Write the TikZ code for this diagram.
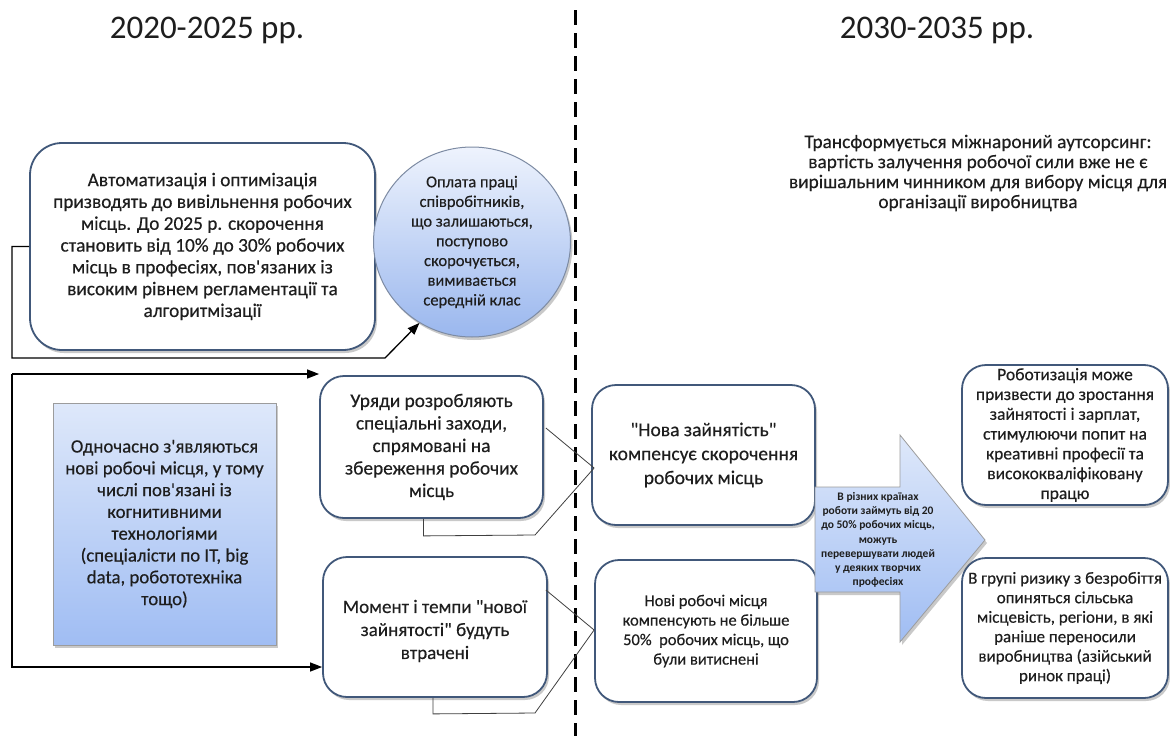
\documentclass[tikz,border=0pt]{standalone}
\usepackage{fontspec}
\setmainfont{Carlito}
\newfontfamily\bodyfont{Carlito}[FakeBold=0.35]
\newfontfamily\plainfont{Carlito}
\usetikzlibrary{shapes.geometric,shadows,arrows.meta,calc}
\definecolor{boxline}{HTML}{41587A}
\definecolor{txt}{HTML}{1E1E1E}
\definecolor{elltop}{HTML}{EEF3FD}
\definecolor{ellbot}{HTML}{9AB7EE}
\definecolor{ellline}{HTML}{7D8BA3}
\definecolor{bluetop}{HTML}{DEE8FA}
\definecolor{bluebot}{HTML}{A0BDF3}
\definecolor{grayline}{HTML}{9C9C9C}
\begin{document}
\begin{tikzpicture}[x=1pt,y=-1pt,
  shad/.style={drop shadow={shadow xshift=2pt,shadow yshift=-3pt,opacity=0.35,fill=black!60}},
  rbox/.style={draw=boxline,line width=1.8pt,rounded corners=24pt,fill=white,align=center,inner sep=0pt,text=txt,shad},
  ellnode/.style={ellipse,draw=ellline,line width=1pt,top color=elltop,bottom color=ellbot,align=center,inner sep=0pt,text=txt,shad},
  bluebox/.style={rectangle,draw=grayline,line width=0.8pt,top color=bluetop,bottom color=bluebot,align=center,inner sep=0pt,text=txt,shad},
  conn/.style={draw=black,line width=1.3pt,-{Triangle[length=12pt,width=9pt]}},
  brk/.style={draw=black!75,line width=0.8pt},
  divider/.style={draw=black,line width=3pt,dash pattern=on 15pt off 8pt}
]
\useasboundingbox[fill=white] (0,0) rectangle (1170,736);

% titles
\node[text=txt,font=\plainfont\fontsize{33}{38}\selectfont] (t1) at (207,30) {2020-2025 рр.};
\node[text=txt,font=\plainfont\fontsize{33}{38}\selectfont] (t2) at (937,30) {2030-2035 рр.};

% divider
\coordinate (dtop) at (575,10);
\coordinate (dbot) at (575,736);
\draw[divider] (dtop) -- (dbot);

% left column
\node[rbox,minimum width=345pt,minimum height=207pt,rounded corners=32pt,font=\bodyfont\fontsize{19.3}{21.8}\selectfont] (a) at (202.5,246.5)
 {Автоматизація і оптимізація\\призводять до вивільнення робочих\\місць. До 2025 р. скорочення\\становить від 10\% до 30\% робочих\\місць в професіях, пов'язаних із\\високим рівнем регламентації та\\алгоритмізації};

\node[ellnode,minimum width=197pt,minimum height=190pt,font=\bodyfont\fontsize{16.5}{19.7}\selectfont] (b) at (472,242)
 {Оплата праці\\співробітників,\\що залишаються,\\поступово\\скорочується,\\вимивається\\середній клас};

\node[bluebox,minimum width=223pt,minimum height=242pt,font=\bodyfont\fontsize{18.8}{21.8}\selectfont] (c) at (164.5,524)
 {Одночасно з'являються\\нові робочі місця, у тому\\числі пов'язані із\\когнитивними\\технологіями\\(спеціалісти по IT, big\\data, робототехніка\\тощо)};

\node[rbox,minimum width=223pt,minimum height=142pt,font=\bodyfont\fontsize{19.3}{22.5}\selectfont] (d) at (431.5,447)
 {Уряди розробляють\\спеціальні заходи,\\спрямовані на\\збереження робочих\\місць};

\node[rbox,minimum width=224pt,minimum height=140pt,font=\bodyfont\fontsize{19}{23}\selectfont] (e) at (435,627)
 {\\[-2pt]Момент і темпи "нової\\зайнятості" будуть\\втрачені};

% right column
\node[rbox,minimum width=223pt,minimum height=140pt,font=\bodyfont\fontsize{19.5}{24}\selectfont] (f) at (703.5,455)
 {"Нова зайнятість"\\компенсує скорочення\\робочих місць};

\node[rbox,minimum width=222pt,minimum height=142pt,font=\bodyfont\fontsize{16.5}{19.5}\selectfont] (g) at (706,631)
 {Нові робочі місця\\компенсують не більше\\50\%\ \ робочих місць, що\\були витиснені};

\node[rbox,minimum width=206pt,minimum height=140pt,font=\bodyfont\fontsize{17.5}{19.8}\selectfont] (h) at (1065,435)
 {Роботизація може\\призвести до зростання\\зайнятості і зарплат,\\стимулюючи попит на\\креативні професії та\\висококваліфіковану\\працю};

\node[rbox,minimum width=206pt,minimum height=140pt,font=\bodyfont\fontsize{17}{19.5}\selectfont] (i) at (1065,628)
 {В групі ризику з безробіття\\опиняться сільська\\місцевість, регіони, в які\\раніше переносили\\виробництва (азійський\\ринок праці)};

\node[text=txt,align=center,font=\bodyfont\fontsize{19.3}{20}\selectfont] (t) at (978,173)
 {Трансформується міжнароний аутсорсинг:\\вартість залучення робочої сили вже не є\\вирішальним чинником для вибору місця для\\організації виробництва};

% big arrow
\path[draw=grayline,line width=0.8pt,top color=bluetop,bottom color=bluebot,shad]
  (815,487) -- (900,487) -- (900,435) -- (985,540) -- (900,642) -- (900,592) -- (815,592) -- cycle;
\node[align=center,text=txt,font=\plainfont\bfseries\fontsize{11.5}{14.2}\selectfont] (arr) at (878,540)
 {В різних країнах\\роботи займуть від 20\\до 50\% робочих місць,\\можуть\\перевершувати людей\\у деяких творчих\\професіях};

% connectors
\coordinate (p1) at (12,246.5);
\coordinate (p2) at (12,358);
\coordinate (p3) at (385,358);
\draw[conn] (a.west) -- (p1) -- (p2) -- (p3) -- (b.237);

\coordinate (j) at (12,374);
\coordinate (k) at (12,667);
\draw[conn] (j) -- (j -| d.west);
\draw[conn] (j) -- (k) -- (k -| e.west);

% brackets d -> f
\coordinate (fm) at ($(f.west)+(3,13)$);
\draw[brk] ($(d.east)+(2,-19)$) -- (fm);
\draw[brk] ($(d.south)+(-8,0)$) -- ++(0,17) -- (535,535) -- (fm);
% brackets e -> g
\coordinate (gm) at ($(g.west)+(0,-1)$);
\draw[brk] ($(e.east)+(-2,-37)$) -- (gm);
\draw[brk] ($(e.south)+(-2,0)$) -- ++(0,16) -- (535,713) -- (gm);
\end{tikzpicture}
\end{document}
